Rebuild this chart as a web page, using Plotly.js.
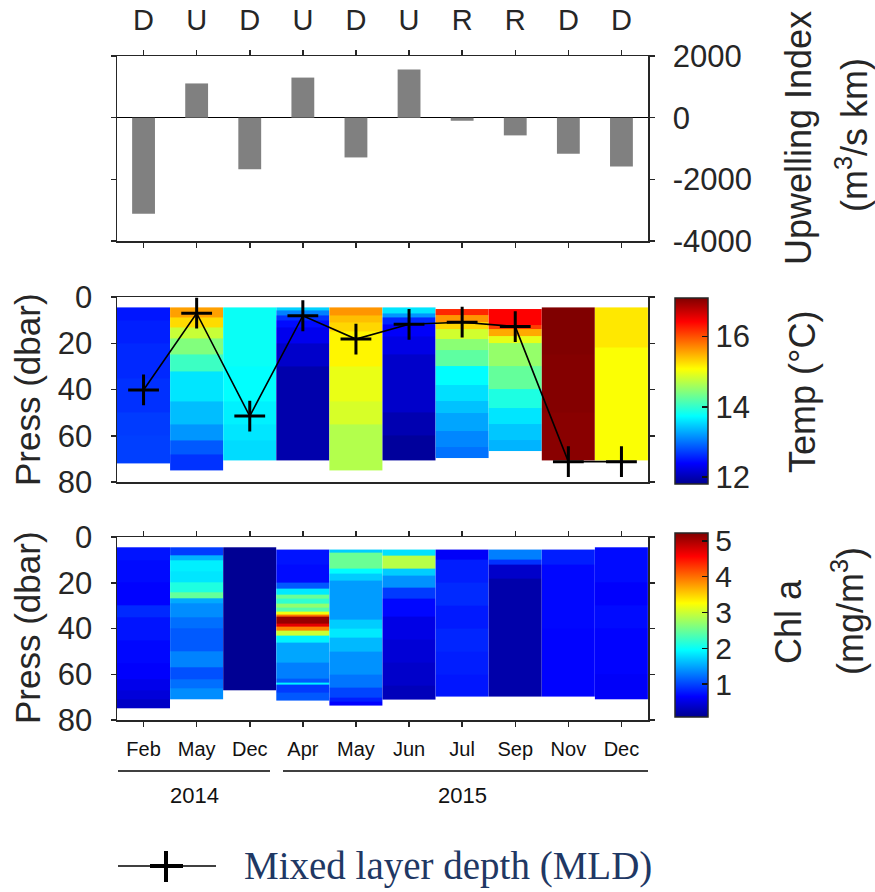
<!DOCTYPE html>
<html>
<head>
<meta charset="utf-8">
<script src="https://cdn.plot.ly/plotly-3.0.1.min.js"></script>
<style>html,body{margin:0;padding:0;background:#fff;}#chart{width:875px;height:892px;}</style>
</head>
<body>
<div id="chart"></div>
<script>
// ---------- data ----------
const months  = ['Feb','May','Dec','Apr','May','Jun','Jul','Sep','Nov','Dec'];
const regimes = ['D','U','D','U','D','U','R','R','D','D'];
const upwelling = [-3120, 1110, -1675, 1300, -1290, 1560, -100, -575, -1170, -1580];
const mld = [40.2, 7.0, 51.5, 8.1, 18.2, 11.8, 10.9, 12.8, 71.2, 71.2];
const years = ['2014', '2015'];
const upTicks = [2000, 0, -2000, -4000];
const pressTicks = [0, 20, 40, 60, 80];
const tempTicks = [12, 14, 16];
const chlTicks = [1, 2, 3, 4, 5];

// temperature profiles: band edges (dbar) and band values (degC)
const tempEdges = [
  [4.5, 10, 20, 35, 50, 60, 71.9],
  [4.5, 9, 13, 18, 25, 32, 45, 55, 62, 68, 74.8],
  [4.5, 30, 45, 55, 62, 70.8],
  [4.5, 6, 8, 10, 13, 20, 30, 70.8],
  [4.5, 8, 11, 15, 30, 45, 55, 65, 74.8],
  [4.5, 7, 9, 12, 17, 25, 50, 60, 70.5],
  [5.2, 8, 11, 14, 18, 23, 30, 38, 45, 50, 58, 65, 69.8],
  [5.2, 12, 14, 17, 20, 30, 40, 48, 55, 62, 66.6],
  [4.5, 25, 50, 70.5],
  [4.5, 22, 70.5]
];
const tempVals = [
  [12.5, 12.55, 12.6, 12.64, 12.7, 12.72],
  [15.58, 15.27, 14.79, 14.42, 14.05, 13.6, 13.39, 13.18, 12.86, 12.65],
  [13.78, 13.74, 13.66, 13.6, 13.55],
  [13.49, 13.07, 12.65, 12.44, 12.3, 12.11, 11.95],
  [15.64, 15.42, 15.29, 15.13, 14.97, 14.87, 14.68, 14.68],
  [13.6, 13.18, 12.6, 12.36, 12.25, 12.11, 11.98, 11.87],
  [16.22, 15.64, 15.29, 14.84, 14.47, 14.23, 13.73, 13.57, 13.41, 13.26, 13.1, 12.99],
  [16.43, 16.11, 15.53, 14.95, 14.52, 14.26, 13.89, 13.6, 13.44, 13.34],
  [17.1, 17.08, 17.05],
  [15.2, 15.06]
];

// chlorophyll a profiles: band edges (dbar) and band values (mg/m3)
const chlEdges = [
  [4.5, 10, 20, 30, 35, 45, 55, 62, 67, 71, 74.9],
  [4.5, 8, 10, 15, 20, 24, 27, 29, 35, 40, 50, 57, 62, 66, 71],
  [4.5, 66.9],
  [5.5, 12, 20, 22.5, 25, 27, 29, 31, 32.5, 34, 35, 38, 39, 41, 43, 46, 55, 62, 63.5, 64.5, 68, 71.7],
  [5.5, 7, 14, 16, 19, 36, 40, 44, 50, 60, 66, 70, 72, 73.6],
  [5.5, 8, 14, 17, 22, 27, 35, 45, 55, 65, 71],
  [5.5, 10, 20, 30, 40, 50, 60, 69.8],
  [5.5, 10, 12, 18, 69.8],
  [5.5, 12, 40, 69.8],
  [4.5, 20, 30, 40, 60, 71]
];
const chlVals = [
  [0.75, 0.70, 0.66, 0.86, 0.75, 0.68, 0.64, 0.55, 0.46, 0.36],
  [0.96, 1.57, 1.88, 1.83, 2.11, 2.47, 1.52, 1.37, 1.22, 1.11, 1.32, 1.06, 1.22, 1.37],
  [0.1],
  [0.75, 0.7, 1.1, 1.85, 2.5, 2.2, 2.7, 2.4, 3.2, 4.0, 5.1, 4.7, 3.9, 3.0, 1.9, 1.5, 1.3, 1.1, 1.9, 0.95, 1.1],
  [1.7, 2.5, 1.95, 1.7, 1.45, 1.7, 1.85, 1.6, 1.4, 1.25, 1.0, 0.8, 0.65],
  [1.8, 2.9, 1.7, 1.4, 0.95, 0.68, 0.52, 0.44, 0.38, 0.3],
  [0.62, 0.8, 0.86, 0.78, 0.84, 0.8, 0.76],
  [1.3, 0.9, 0.38, 0.22],
  [0.8, 0.68, 0.66],
  [0.7, 0.64, 0.7, 0.66, 0.62]
];

// ---------- helpers ----------
const W = 875, H = 892;
const px = v => v / W;
const py = v => 1 - v / H;
const FONT = 'Liberation Sans, Arial, sans-serif';
const AX = '#262626';
const jet = [
  [0, 'rgb(0,0,143)'], [0.111, 'rgb(0,0,255)'], [0.365, 'rgb(0,255,255)'],
  [0.619, 'rgb(255,255,0)'], [0.873, 'rgb(255,0,0)'], [1, 'rgb(128,0,0)']
];
const catPos = months.map((m, i) => i + 1);

const traces = [];
traces.push({
  type: 'bar', x: catPos, y: upwelling, xaxis: 'x', yaxis: 'y',
  width: 0.43, marker: {color: '#808080', line: {width: 0}}, hoverinfo: 'y'
});
tempEdges.forEach((edges, i) => {
  traces.push({
    type: 'heatmap', xaxis: 'x2', yaxis: 'y2', coloraxis: 'coloraxis',
    x: [catPos[i] - 0.5, catPos[i] + 0.5], y: edges,
    z: tempVals[i].map(v => [v]), zsmooth: false
  });
});
traces.push({
  type: 'scatter', mode: 'lines+markers', x: catPos, y: mld, xaxis: 'x2', yaxis: 'y2',
  line: {color: '#000', width: 1.6},
  marker: {symbol: 'cross-thin', size: 22, color: '#000', line: {color: '#000', width: 3}}
});
chlEdges.forEach((edges, i) => {
  traces.push({
    type: 'heatmap', xaxis: 'x3', yaxis: 'y3', coloraxis: 'coloraxis2',
    x: [catPos[i] - 0.5, catPos[i] + 0.5], y: edges,
    z: chlVals[i].map(v => [v]), zsmooth: false
  });
});

const xDom = [px(117), px(648)];
const baseX = {
  domain: xDom, range: [0.5, 10.5], showgrid: false, zeroline: false,
  showline: true, linecolor: AX, linewidth: 1.5, tickcolor: AX, tickwidth: 1.5,
  fixedrange: true
};
const baseY = {
  showgrid: false, zeroline: false, showline: true, linecolor: AX, linewidth: 1.5,
  tickcolor: AX, tickwidth: 1.5, ticks: 'outside', ticklen: 5, mirror: 'ticks',
  tickfont: {size: 31, color: '#262626'}, fixedrange: true
};

const layout = {
  width: W, height: H, margin: {l: 0, r: 0, t: 0, b: 0},
  paper_bgcolor: '#fff', plot_bgcolor: '#fff', showlegend: false,
  font: {family: FONT, color: '#262626'},
  xaxis: Object.assign({}, baseX, {
    anchor: 'y', side: 'top', tickvals: catPos, ticktext: regimes, ticks: 'outside',
    ticklen: 5, mirror: 'ticks', tickfont: {size: 29, color: '#262626'}, ticklabelstandoff: 8
  }),
  yaxis: Object.assign({}, baseY, {
    domain: [py(241), py(56)], range: [-4000, 2000], side: 'right',
    tickvals: upTicks, ticktext: upTicks.map(String), ticklabelstandoff: 12,
    zeroline: true, zerolinecolor: '#000', zerolinewidth: 1.5
  }),
  xaxis2: Object.assign({}, baseX, {
    anchor: 'y2', showticklabels: false, ticks: '', mirror: true
  }),
  yaxis2: Object.assign({}, baseY, {
    domain: [py(482), py(297)], range: [80, 0], tickvals: pressTicks, ticklabelstandoff: 12
  }),
  xaxis3: Object.assign({}, baseX, {
    anchor: 'y3', tickvals: catPos, ticktext: months, ticks: 'outside', ticklen: 5,
    mirror: 'ticks', tickfont: {size: 20, color: '#111'}, ticklabelstandoff: 5
  }),
  yaxis3: Object.assign({}, baseY, {
    domain: [py(720), py(537)], range: [80, 0], tickvals: pressTicks, ticklabelstandoff: 12
  }),
  coloraxis: {
    colorscale: jet, cmin: 11.8, cmax: 17.1,
    colorbar: {
      x: px(675), xanchor: 'left', xpad: 0, y: py(484), yanchor: 'bottom', ypad: 0,
      len: 186 / H, lenmode: 'fraction', thickness: 33, thicknessmode: 'pixels',
      outlinewidth: 1.5, outlinecolor: AX, tickvals: tempTicks, ticks: 'inside',
      ticklen: 6, tickwidth: 1.5, tickcolor: '#111', tickfont: {size: 31, color: '#262626'}
    }
  },
  coloraxis2: {
    colorscale: jet, cmin: 0.08, cmax: 5.22,
    colorbar: {
      x: px(675), xanchor: 'left', xpad: 0, y: py(717), yanchor: 'bottom', ypad: 0,
      len: 184 / H, lenmode: 'fraction', thickness: 33, thicknessmode: 'pixels',
      outlinewidth: 1.5, outlinecolor: AX, tickvals: chlTicks, ticks: 'inside',
      ticklen: 6, tickwidth: 1.5, tickcolor: '#111', tickfont: {size: 30, color: '#262626'}
    }
  },
  annotations: [
    {text: 'Upwelling Index', x: px(798), y: py(138), textangle: -90, font: {size: 36}},
    {text: '(m<sup>3</sup>/s km)', x: px(852), y: py(135), textangle: -90, font: {size: 36}},
    {text: 'Temp (°C)', x: px(803), y: py(392), textangle: -90, font: {size: 36}},
    {text: 'Chl a', x: px(788), y: py(622), textangle: -90, font: {size: 36}},
    {text: '(mg/m<sup>3</sup>)', x: px(848), y: py(611), textangle: -90, font: {size: 36}},
    {text: 'Press (dbar)', x: px(27), y: py(390), textangle: -90, font: {size: 35}},
    {text: 'Press (dbar)', x: px(27), y: py(628), textangle: -90, font: {size: 35}},
    {text: years[0], x: px(194), y: py(795), font: {size: 22, color: '#111'}},
    {text: years[1], x: px(462), y: py(795), font: {size: 22, color: '#111'}},
    {text: 'Mixed layer depth (MLD)', x: px(242), xanchor: 'left', y: py(866),
     font: {size: 39, family: 'Liberation Serif, Times New Roman, serif', color: '#1f3864'}}
  ].map(a => Object.assign({xref: 'paper', yref: 'paper', showarrow: false,
                            xanchor: 'center', yanchor: 'middle'}, a)),
  shapes: [
    {x0: px(118), x1: px(270), y0: py(771), y1: py(771), line: {width: 1.5, color: '#000'}},
    {x0: px(283), x1: px(648), y0: py(771), y1: py(771), line: {width: 1.5, color: '#000'}},
    {x0: px(118), x1: px(216), y0: py(866), y1: py(866), line: {width: 1.5, color: '#000'}},
    {x0: px(150), x1: px(183), y0: py(866), y1: py(866), line: {width: 4, color: '#000'}},
    {x0: px(166), x1: px(166), y0: py(851), y1: py(882), line: {width: 4, color: '#000'}}
  ].map(s => Object.assign({type: 'line', xref: 'paper', yref: 'paper'}, s))
};

Plotly.newPlot('chart', traces, layout, {displayModeBar: false, staticPlot: true});
</script>
</body>
</html>
